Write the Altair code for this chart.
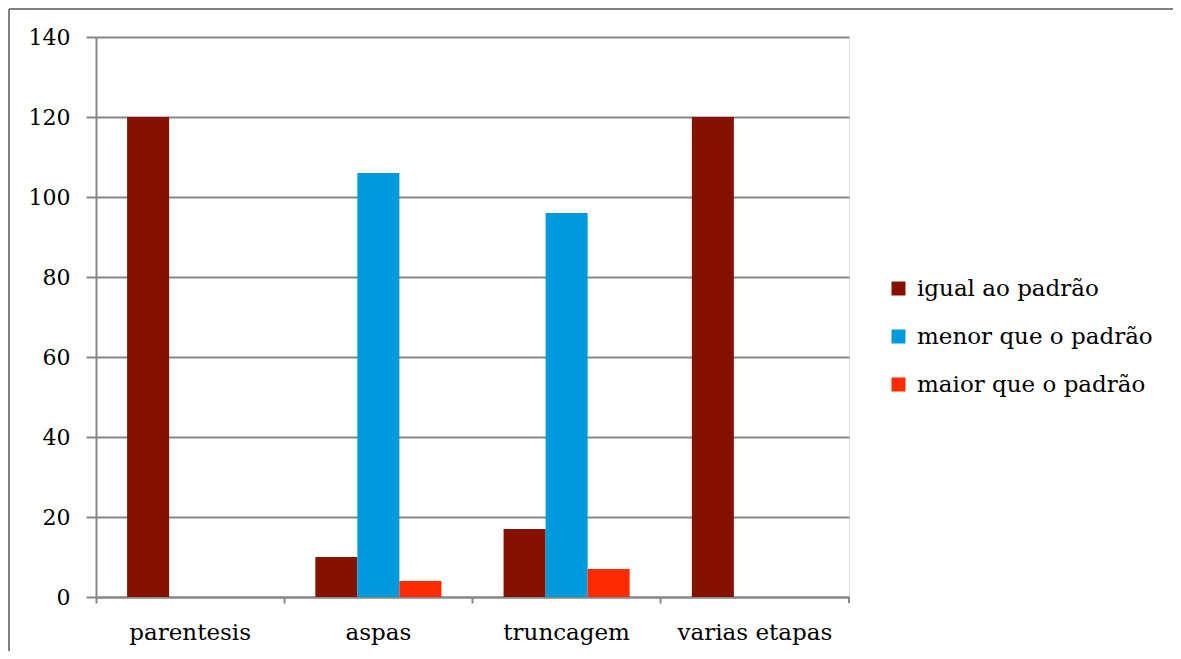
import altair as alt
import pandas as pd

categories = ["parentesis", "aspas", "truncagem", "varias etapas"]
series = ["igual ao padrão", "menor que o padrão", "maior que o padrão"]
igual = [120, 10, 17, 120]
menor = [0, 106, 96, 0]
maior = [0, 4, 7, 0]
colors = ["#851200", "#0099dc", "#ff2a00"]
y_ticks = [0, 20, 40, 60, 80, 100, 120, 140]

rows = []
for i, c in enumerate(categories):
    for s, vals in zip(series, [igual, menor, maior]):
        rows.append({"cat": c, "serie": s, "valor": vals[i]})
df = pd.DataFrame(rows)

FONT = "DejaVu Serif"
GRAY = "#868686"
W, H = 753, 560

bars = alt.Chart(df).mark_bar().encode(
    x=alt.X("cat:N", sort=categories, title=None,
            scale=alt.Scale(paddingInner=0, paddingOuter=0),
            axis=alt.Axis(labelAngle=0, bandPosition=0, tickSize=6, tickWidth=2,
                          tickColor=GRAY, domainColor=GRAY, domainWidth=2,
                          labelPadding=18, labelFontSize=23, labelFont=FONT,
                          labelColor="#000", grid=False, labelLimit=400)),
    xOffset=alt.XOffset("serie:N", sort=series,
                        scale=alt.Scale(paddingInner=0, paddingOuter=0.74)),
    y=alt.Y("valor:Q", title=None,
            scale=alt.Scale(domain=[0, 140], nice=False),
            axis=alt.Axis(values=y_ticks, tickSize=10, tickWidth=2, tickColor=GRAY,
                          domainColor=GRAY, domainWidth=2, gridColor=GRAY,
                          gridWidth=2, labelPadding=16, labelFontSize=22,
                          labelFont=FONT, labelColor="#000")),
    color=alt.Color("serie:N", sort=series,
                    scale=alt.Scale(domain=series, range=colors),
                    legend=alt.Legend(title=None, orient="none", legendX=791,
                                      legendY=240, symbolType="square",
                                      symbolSize=196, symbolStrokeWidth=0,
                                      labelFontSize=23, labelFont=FONT,
                                      labelColor="#000", rowPadding=24,
                                      labelOffset=7, labelLimit=400)),
)

one = pd.DataFrame({"a": [0]})
end_tick = alt.Chart(one).mark_rule(color=GRAY, strokeWidth=2).encode(
    x=alt.value(W), x2=alt.value(W), y=alt.value(H), y2=alt.value(H + 6)
)

frame_top = alt.Chart(one).mark_rule(color="#808080", strokeWidth=2).encode(
    x=alt.value(-87), x2=alt.value(W + 500), y=alt.value(-28), y2=alt.value(-28)
)
frame_left = alt.Chart(one).mark_rule(color="#808080", strokeWidth=2).encode(
    x=alt.value(-87), x2=alt.value(-87), y=alt.value(-28), y2=alt.value(H + 300)
)

chart = alt.layer(frame_top, frame_left, bars, end_tick).properties(
    width=W, height=H,
    autosize=alt.AutoSizeParams(type="none"),
    padding={"left": 88, "top": 29, "right": 1165 - 88 - W, "bottom": 643 - 29 - H},
).configure_view(strokeWidth=0, stroke="transparent").configure(background="white")

chart.save("out.html", embed_options={"renderer": "svg", "actions": False})
